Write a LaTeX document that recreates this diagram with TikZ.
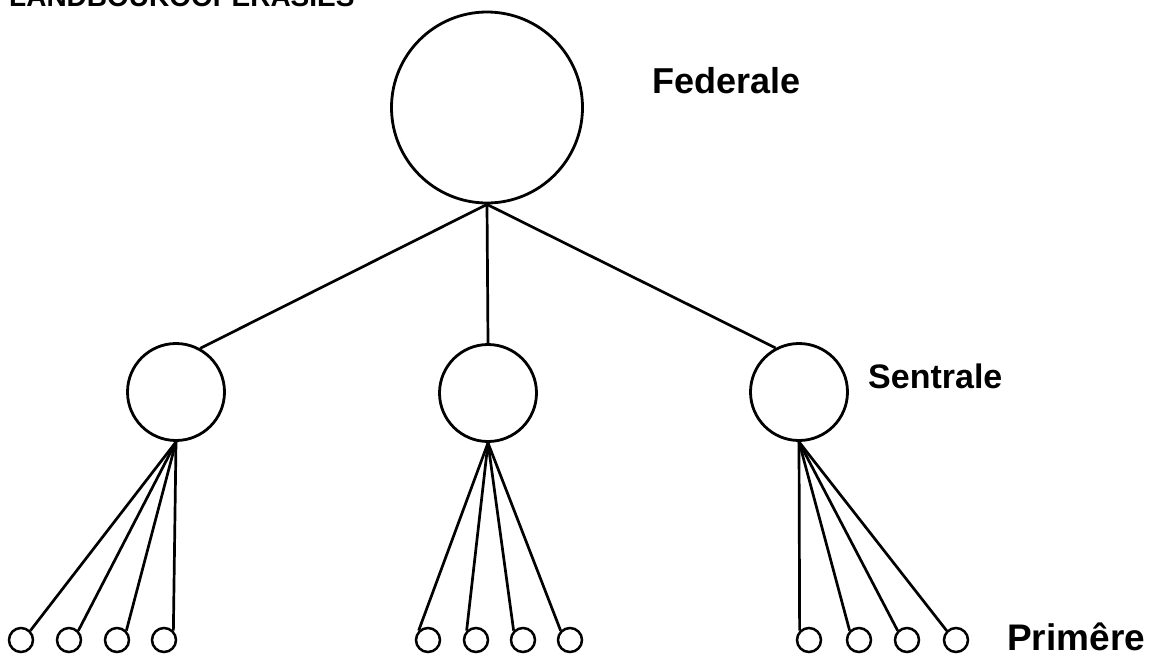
\documentclass[tikz,border=0pt]{standalone}
\usepackage{fontspec}
\setmainfont{Liberation Sans}
\begin{document}
\begin{tikzpicture}[x=1pt,y=-1pt,
  circ/.style={draw, circle, inner sep=0pt, line width=2.8pt},
  fedbox/.style={circ, minimum size=191pt},
  senbox/.style={circ, minimum size=97pt},
  primbox/.style={circ, minimum size=24pt, line width=2.5pt},
  conn/.style={line width=2.7pt},
  lbl/.style={anchor=base west, inner sep=0pt, font=\bfseries}]
\clip (0,0) rectangle (1154,656);
\fill[white] (0,0) rectangle (1154,656);
% title (cut off at top, as in the reference)
\node[lbl, font=\fontsize{28}{30}\selectfont\bfseries] (title) at (9,6) {LANDBOUKOÖPERASIES};
% main nodes
\node[fedbox] (F) at (487,107.5) {};
\node[senbox] (s1) at (176,392) {};
\node[senbox] (s2) at (488,393) {};
\node[senbox] (s3) at (799,392) {};
\foreach \n/\x in {1/21,2/69,3/117,4/164,5/428,6/476,7/523,8/570,9/809,10/859,11/907,12/956}
  \node[primbox] (p\n) at (\x,640) {};
% labels
\node[lbl, font=\fontsize{36}{40}\selectfont\bfseries] (lf) at (652,93) {Federale};
\node[lbl, font=\fontsize{34}{38}\selectfont\bfseries] (ls) at (868,388) {Sentrale};
\node[lbl, font=\fontsize{37}{40}\selectfont\bfseries] (lp) at (1007,650) {Primêre};
% connectors
\draw[conn] (F.south) -- (s1.61);
\draw[conn] (F.south) -- (s2.north);
\draw[conn] (F.south) -- (s3.118);
\foreach \n in {1,2,3,4} \draw[conn] (s1.south) -- (p\n.45);
\foreach \n in {5,6,7,8} \draw[conn] (s2.south) -- (p\n.135);
\foreach \n in {9,10,11,12} \draw[conn] (s3.south) -- (p\n.135);
\end{tikzpicture}
\end{document}
